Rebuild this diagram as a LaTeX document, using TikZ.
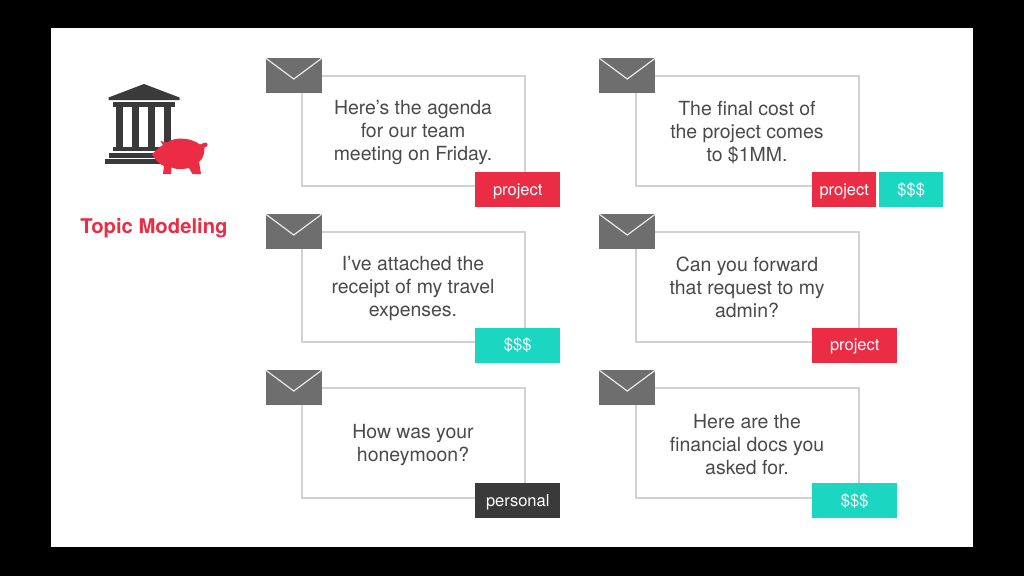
\documentclass[tikz,border=0pt]{standalone}
\usepackage{fontspec}
\setmainfont{TeX Gyre Heros}
\definecolor{mred}{HTML}{EA2C44}
\definecolor{mteal}{HTML}{1BD7C1}
\definecolor{mdark}{HTML}{3A3A3A}
\definecolor{menv}{HTML}{6E6E6E}
\definecolor{mline}{HTML}{D2D2D2}
\definecolor{mtext}{HTML}{4A4A4A}
\tikzset{
  card/.style={draw=mline, line width=1.8pt, minimum width=223*0.75pt, minimum height=110*0.75pt, anchor=north west, inner sep=0pt},
  msg/.style={text=mtext, font=\fontsize{14.6}{17.25}\selectfont, align=center, inner sep=0pt},
  tag/.style={text=white, font=\fontsize{12.4}{14}\selectfont, text height=10.2pt, text depth=1.8pt, minimum height=35*0.75pt, inner sep=0pt, anchor=north west},
  tagwide/.style={tag, minimum width=85*0.75pt},
  tagshort/.style={tag, minimum width=64*0.75pt},
  envbody/.style={fill=menv, minimum width=56*0.75pt, minimum height=35*0.75pt, inner sep=0pt, anchor=north west},
  envflap/.style={draw=white!85!menv, line width=0.9pt},
}
\begin{document}
\begin{tikzpicture}[x=0.75pt, y=-0.75pt]
  \useasboundingbox (0,0) rectangle (1024,576);
  \fill[black] (0,0) rectangle (1024,576);
  \fill[white] (51,28) rectangle (973,547);
  % bank
  \fill[mdark] (144,84) -- (179.5,97.5) -- (179.5,100) -- (108.5,100) -- (108.5,97.5) -- cycle;
  \fill[mdark] (113,102) rectangle (175,107);
  \foreach \x in {116.2,132.2,148.2,164}
    \fill[mdark] (\x,107) rectangle ++(7.2,39.5);
  \fill[mdark] (113,146.5) rectangle (165,151);
  \fill[mdark] (109,152.5) rectangle (160,157.5);
  \fill[mdark] (104.5,159) rectangle (160,164);
  % piggy bank
  \fill[mred] (152,154.5) .. controls (156,150.5) and (159,147) .. (163,145)
    -- (160.5,141) -- (167,142.5) .. controls (174,137) and (190,137) .. (200,144.5)
    -- (205,142.5) .. controls (208.5,142.5) and (208.5,147) .. (204.5,147.5)
    .. controls (204.5,154) and (203,159) .. (199,162) -- (201,174) -- (192.5,174) -- (189,168)
    .. controls (182,169.5) and (176,169.5) .. (171.5,167.5) -- (171,174) -- (163,174)
    -- (164,166) .. controls (159,164) and (155,159.5) .. (152,154.5) -- cycle;
  \node[text=mred, font=\bfseries\fontsize{15.2}{17}\selectfont, inner sep=0pt] (title) at (154,228) {Topic Modeling};
  % cards, left column
  \node[card] (carda) at (301,75) {};
  \node[card] (cardb) at (301,231) {};
  \node[card] (cardc) at (301,387) {};
  % cards, right column
  \node[card] (cardd) at (635,75) {};
  \node[card] (carde) at (635,231) {};
  \node[card] (cardf) at (635,387) {};
  % envelopes
  \foreach \n/\x/\y in {enva/265.5/58, envb/265.5/214, envc/265.5/370, envd/599/58, enve/599/214, envf/599/370} {
    \node[envbody] (\n) at (\x,\y) {};
    \draw[envflap] (\n.north west) -- ([yshift=-21*0.75pt]\n.north) -- (\n.north east);
  }
  % messages
  \node[msg] (msga) at (413,133) {Here’s the agenda\\for our team\\meeting on Friday.};
  \node[msg] (msgb) at (413,289) {I’ve attached the\\receipt of my travel\\expenses.};
  \node[msg] (msgc) at (413,445.5) {How was your\\honeymoon?};
  \node[msg] (msgd) at (747,132.5) {The final cost of\\the project comes\\to \$1MM.};
  \node[msg] (msge) at (747,287.5) {Can you forward\\that request to my\\admin?};
  \node[msg] (msgf) at (747,444.5) {Here are the\\financial docs you\\asked for.};
  % tags
  \node[tagwide, fill=mred] (taga) at (475,172) {project};
  \node[tagwide, fill=mteal] (tagb) at (475,327.5) {\$\$\$};
  \node[tagwide, fill=mdark] (tagc) at (475,483) {personal};
  \node[tagshort, fill=mred] (tagd) at (812,172) {project};
  \node[tagshort, fill=mteal] (tagdd) at (879,172) {\$\$\$};
  \node[tagwide, fill=mred] (tage) at (812,327.5) {project};
  \node[tagwide, fill=mteal] (tagf) at (812,483) {\$\$\$};
\end{tikzpicture}
\end{document}
